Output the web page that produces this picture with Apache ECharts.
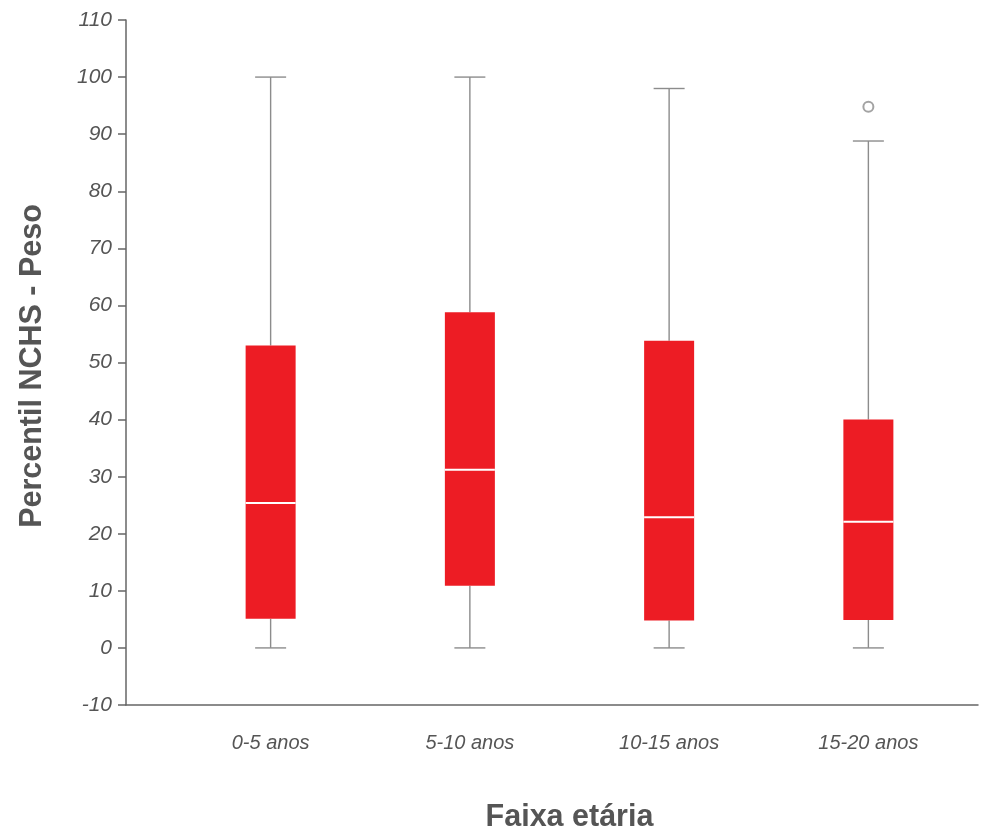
<!DOCTYPE html>
<html>
<head>
<meta charset="utf-8">
<script src="https://cdn.jsdelivr.net/npm/echarts@6/dist/echarts.min.js"></script>
<style>html,body{margin:0;padding:0;background:#fff}#c{width:999px;height:832px}</style>
</head>
<body>
<div id="c"></div>
<script>
var categories = ['0-5 anos', '5-10 anos', '10-15 anos', '15-20 anos'];
var mins    = [0, 0, 0, 0];
var q1s     = [5.1, 10.9, 4.8, 4.9];
var medians = [25.4, 31.2, 22.9, 22.1];
var q3s     = [53.0, 58.8, 53.8, 40.0];
var maxs    = [100, 100, 98, 88.8];
var outliers = [[3, 94.8]];
var yMin = -10, yMax = 110, yStep = 10;

var boxData = categories.map(function (c, i) {
  return [i, mins[i], q1s[i], medians[i], q3s[i], maxs[i]];
});

var chart = echarts.init(document.getElementById('c'));
var textColor = '#555555';
var whisker = '#8c8c8c';
var fontFam = '"Liberation Sans", Arial, Helvetica, sans-serif';

chart.setOption({
  animation: false,
  grid: [
    { left: 126, right: 21, top: 20, bottom: 127, outerBoundsMode: 'none', containLabel: false },
    { left: 171, right: 31, top: 20, bottom: 127, outerBoundsMode: 'none', containLabel: false }
  ],
  xAxis: [
    { gridIndex: 0, type: 'value', min: 0, max: 1,
      axisLine: { show: true, onZero: false, lineStyle: { color: '#666', width: 1.5 } },
      axisTick: { show: false }, axisLabel: { show: false }, splitLine: { show: false } },
    { gridIndex: 1, type: 'category', data: categories,
      axisLine: { show: false, onZero: false }, axisTick: { show: false },
      axisLabel: { color: textColor, fontStyle: 'italic', fontSize: 20, fontFamily: fontFam, margin: 28 },
      name: 'Faixa etária', nameLocation: 'middle', nameGap: 97,
      nameTextStyle: { color: textColor, fontWeight: 'bold', fontSize: 30.5, fontFamily: fontFam } }
  ],
  yAxis: [
    { gridIndex: 0, type: 'value', min: yMin, max: yMax, interval: yStep,
      axisLine: { show: true, lineStyle: { color: '#666', width: 1.5 } },
      axisTick: { show: true, length: 8, lineStyle: { color: '#666', width: 1.5 } },
      axisLabel: { color: textColor, fontStyle: 'italic', fontSize: 21, fontFamily: fontFam, margin: 14 },
      splitLine: { show: false },
      name: 'Percentil NCHS - Peso', nameLocation: 'middle', nameRotate: 90, nameGap: 78,
      nameTextStyle: { color: textColor, fontWeight: 'bold', fontSize: 30.5, fontFamily: fontFam, padding: [0, 7, 0, 0] } },
    { gridIndex: 1, type: 'value', min: yMin, max: yMax, interval: yStep, show: false }
  ],
  series: [
    {
      type: 'custom', xAxisIndex: 1, yAxisIndex: 1,
      data: boxData,
      encode: { x: 0, y: [1, 2, 3, 4, 5] },
      renderItem: function (params, api) {
        var x = api.value(0);
        var pMin = api.coord([x, api.value(1)]);
        var pQ1 = api.coord([x, api.value(2)]);
        var pMed = api.coord([x, api.value(3)]);
        var pQ3 = api.coord([x, api.value(4)]);
        var pMax = api.coord([x, api.value(5)]);
        var cx = pMin[0];
        var bw = 50, cw = 31;
        var ls = { stroke: whisker, lineWidth: 1.4 };
        return {
          type: 'group',
          children: [
            { type: 'line', shape: { x1: cx, y1: pMin[1], x2: cx, y2: pQ1[1] }, style: ls },
            { type: 'line', shape: { x1: cx, y1: pQ3[1], x2: cx, y2: pMax[1] }, style: ls },
            { type: 'line', shape: { x1: cx - cw / 2, y1: pMin[1], x2: cx + cw / 2, y2: pMin[1] }, style: ls },
            { type: 'line', shape: { x1: cx - cw / 2, y1: pMax[1], x2: cx + cw / 2, y2: pMax[1] }, style: ls },
            { type: 'rect', shape: { x: cx - bw / 2, y: pQ3[1], width: bw, height: pQ1[1] - pQ3[1] },
              style: { fill: '#ED1C24', stroke: null } },
            { type: 'line', shape: { x1: cx - bw / 2, y1: pMed[1], x2: cx + bw / 2, y2: pMed[1] },
              style: { stroke: '#ffffff', lineWidth: 2 } }
          ]
        };
      }
    },
    {
      type: 'scatter', xAxisIndex: 1, yAxisIndex: 1,
      data: outliers,
      symbol: 'emptyCircle', symbolSize: 10,
      itemStyle: { color: whisker, borderColor: whisker, borderWidth: 1.4 }
    }
  ]
});
</script>
</body>
</html>
